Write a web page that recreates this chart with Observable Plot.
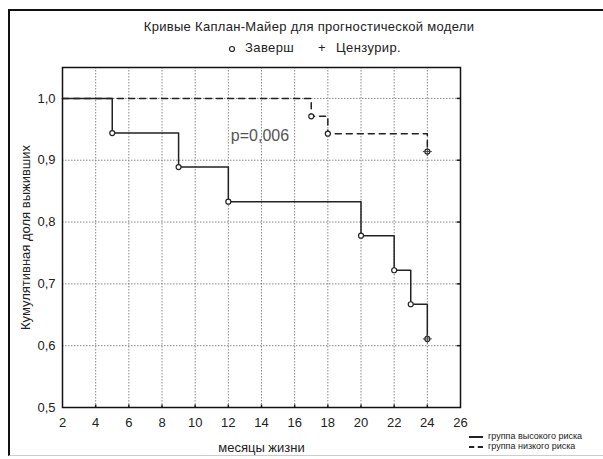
<!DOCTYPE html>
<html><head><meta charset="utf-8">
<script src="https://cdn.jsdelivr.net/npm/d3@7"></script>
<script src="https://cdn.jsdelivr.net/npm/@observablehq/plot@0.6"></script>
<style>
html,body{margin:0;padding:0;background:#fff;}
#wrap{position:relative;width:603px;height:459px;overflow:hidden;font-family:"Liberation Sans",Arial,sans-serif;color:#222;}
#border{position:absolute;left:8px;top:9px;right:-5px;bottom:3px;border-left:2px solid #111;border-top:2px solid #111;border-bottom:1px solid #ccc;}
#title{position:absolute;top:19px;left:0;width:618px;text-align:center;font-size:13px;letter-spacing:0.3px;}
#leg{position:absolute;top:40px;left:0;width:603px;font-size:13px;letter-spacing:0.4px;}
#leg2{position:absolute;left:469px;top:431px;font-size:9px;line-height:10px;}
svg{position:absolute;left:0;top:0;}
</style></head>
<body><div id="wrap"><div id="border"></div>
<div id="title">Кривые Каплан-Майер для прогностической модели</div>
<div id="leg"><svg width="10" height="10" style="position:absolute;left:227px;top:4px;"><circle cx="5" cy="5" r="2.5" fill="none" stroke="#222" stroke-width="1.2"/></svg><span style="position:absolute;left:245px;">Заверш</span><span style="position:absolute;left:318px;">+</span><span style="position:absolute;left:336px;">Цензурир.</span></div>
<div id="leg2"><div><span style="display:inline-block;width:14px;border-top:2px solid #222;vertical-align:middle;margin-right:5px;"></span>группа высокого риска</div><div><span style="display:inline-block;width:14px;border-top:2px dashed #222;vertical-align:middle;margin-right:5px;"></span>группа низкого риска</div></div>
</div>
<script>
const xTicks = [2,4,6,8,10,12,14,16,18,20,22,24,26];
const yTicks = [0.5,0.6,0.7,0.8,0.9,1.0];
const highTime = [2,5,9,12,20,22,23,24];
const highSurv = [1.0,0.944,0.889,0.833,0.778,0.722,0.667,0.611];
const lowTime = [2,17,18,24];
const lowSurv = [1.0,0.971,0.943,0.914];
const censoredTime = [24,24];
const censoredSurv = [0.611,0.914];
const pLabel = {x:12.15, y:0.94, text:"p=0,006"};

const high = highTime.map((t,i)=>({t, s:highSurv[i]}));
const low = lowTime.map((t,i)=>({t, s:lowSurv[i]}));
const cens = censoredTime.map((t,i)=>({t, s:censoredSurv[i]}));
const fmt = d => d3.format(".1f")(d).replace(".", ",");
const innerX = xTicks.filter(d=>d>2 && d<26);
const innerY = yTicks.filter(d=>d>0.5);

const chart = Plot.plot({
  width:603, height:459,
  marginLeft:62, marginRight:143, marginTop:67, marginBottom:52,
  style:{fontFamily:"'Liberation Sans', Arial, sans-serif", fontSize:"13px", color:"#222", background:"transparent"},
  x:{domain:[2,26]},
  y:{domain:[0.5,1.05]},
  marks:[
    Plot.ruleX(innerX, {stroke:"#888", strokeDasharray:"1.5,1.5", strokeWidth:1}),
    Plot.ruleY(innerY, {stroke:"#888", strokeDasharray:"1.5,1.5", strokeWidth:1}),
    Plot.axisX({ticks:xTicks, tickSize:0, tickPadding:10, tickFormat:d=>String(d), fontSize:13, label:"месяцы жизни", labelAnchor:"center", labelArrow:"none", labelOffset:44}),
    Plot.axisY({ticks:yTicks, tickSize:0, tickPadding:7, tickFormat:fmt, fontSize:13, label:"Кумулятивная доля выживших", labelAnchor:"center", labelArrow:"none", labelOffset:42}),
    Plot.ruleX(innerX, {y1:0.5, y2:0.504, stroke:"#222", strokeWidth:1.5}),
    Plot.ruleY(innerY, {x1:25.8, x2:26, stroke:"#222", strokeWidth:1.5}),
    Plot.line(high, {x:"t", y:"s", curve:"step-after", stroke:"#222", strokeWidth:1.5}),
    Plot.line(low, {x:"t", y:"s", curve:"step-after", stroke:"#222", strokeWidth:1.5, strokeDasharray:"6,5"}),
    Plot.dot(high.slice(1), {x:"t", y:"s", r:2.5, stroke:"#222", fill:"white", strokeWidth:1.2}),
    Plot.dot(low.slice(1), {x:"t", y:"s", r:2.5, stroke:"#222", fill:"white", strokeWidth:1.2}),
    Plot.dot(cens, {x:"t", y:"s", r:3, symbol:"plus", stroke:"#444", strokeWidth:1}),
    Plot.text([pLabel], {x:"x", y:"y", text:"text", textAnchor:"start", fontSize:16, fill:"#555"}),
    Plot.frame({stroke:"#111", strokeWidth:1.5})
  ]
});
document.getElementById("wrap").appendChild(chart);
</script></body></html>
